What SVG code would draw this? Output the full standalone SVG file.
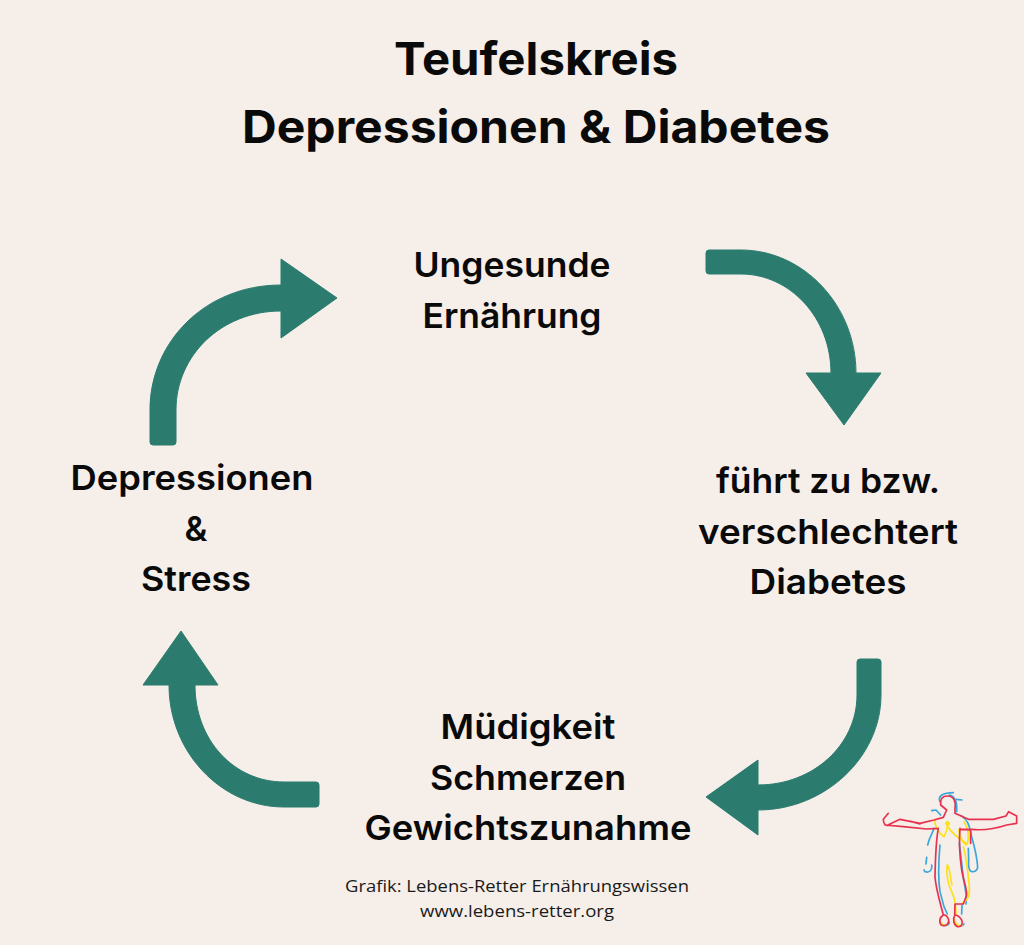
<svg xmlns="http://www.w3.org/2000/svg" width="1024" height="945" viewBox="0 0 1024 945">
<style>
text{font-family:"Inter","Liberation Sans",sans-serif;text-anchor:middle;fill:#0a0a0a}
.t{font-size:45px;font-weight:700}
.l{font-size:34.500px;font-weight:600}
.c{font-family:"Open Sans","Liberation Sans",sans-serif;font-size:16.500px;font-weight:400;fill:#1a1a1a}
.a{fill:#2b7c6f;stroke:#2b7c6f;stroke-width:1;stroke-linejoin:round}
.f path{fill:none;stroke-width:5;stroke-linecap:round;stroke-linejoin:round}
.r{stroke:#e8304f}
.b{stroke:#3aa6dc}
.y{stroke:#fbe116}
</style>
<rect width="1024" height="945" fill="#f5eee9"/>
<g id="title">
<text class="t" x="536" y="75" textLength="284" lengthAdjust="spacingAndGlyphs">Teufelskreis</text>
<text class="t" x="536" y="143" textLength="588" lengthAdjust="spacingAndGlyphs">Depressionen &amp; Diabetes</text>
</g>
<g id="connectors">
<path class="a" d="M709 250H741C804 250 856 306 856 373H881L844 425L806 373H831C831 318 790 274 741 274H709Q706 274 706 271V253Q706 250 709 250Z"/>
<path class="a" d="M881 662V695C881 757 825 810 758 810V835L706 797L758 760V785C813 785 857 745 857 695V662Q857 659 860 659H878Q881 659 881 662Z"/>
<path class="a" d="M316 782H284C234 782 195 740 195 685H218L181 631L143 685H169C169 752 221 807 284 807H316Q319 807 319 804V785Q319 782 316 782Z"/>
<path class="a" d="M150 442V410C150 342 205 285 281 285V259L337 298L281 338V311C222 311 176 355 176 410V442Q176 445 173 445H153Q150 445 150 442Z"/>
</g>
<g id="node-ernaehrung">
<text class="l" x="512" y="277" textLength="197" lengthAdjust="spacingAndGlyphs">Ungesunde</text>
<text class="l" x="512" y="328" textLength="179" lengthAdjust="spacingAndGlyphs">Ernährung</text>
</g>
<g id="node-diabetes">
<text class="l" x="828" y="493" textLength="224" lengthAdjust="spacingAndGlyphs">führt zu bzw.</text>
<text class="l" x="828" y="544" textLength="260" lengthAdjust="spacingAndGlyphs">verschlechtert</text>
<text class="l" x="828" y="594" textLength="157" lengthAdjust="spacingAndGlyphs">Diabetes</text>
</g>
<g id="node-muedigkeit">
<text class="l" x="528" y="739" textLength="175" lengthAdjust="spacingAndGlyphs">Müdigkeit</text>
<text class="l" x="528" y="790" textLength="196" lengthAdjust="spacingAndGlyphs">Schmerzen</text>
<text class="l" x="528" y="840" textLength="327" lengthAdjust="spacingAndGlyphs">Gewichtszunahme</text>
</g>
<g id="node-depressionen">
<text class="l" x="192" y="490" textLength="243" lengthAdjust="spacingAndGlyphs">Depressionen</text>
<text class="l" x="196" y="541">&amp;</text>
<text class="l" x="196" y="591" textLength="110" lengthAdjust="spacingAndGlyphs">Stress</text>
</g>
<g id="credit">
<text class="c" x="517" y="892" textLength="344" lengthAdjust="spacingAndGlyphs">Grafik: Lebens-Retter Ernährungswissen</text>
<text class="c" x="517" y="917" textLength="194" lengthAdjust="spacingAndGlyphs">www.lebens-retter.org</text>
</g>
<g id="figure" class="f" transform="translate(860 780) scale(.3333)">
<path class="b" d="M240 65C232 48 250 38 280 38M268 45C285 48 292 65 290 95M290 58L306 60M215 92L228 90L242 105M305 108C322 118 328 135 335 170C345 205 352 240 353 262C352 272 342 278 333 274C325 270 325 255 326 240L325 205M222 145C218 160 208 170 203 195M200 232L198 252M215 255C218 268 210 280 195 275L192 270M240 195C236 240 233 290 240 335L252 380L262 402M298 190C304 230 306 270 312 305C318 340 322 355 318 372M306 375L305 402M240 425C245 440 265 440 268 428M282 425C288 440 306 442 312 432"/>
<path class="y" d="M225 118C222 135 238 162 252 170C258 160 262 150 262 138C272 155 290 172 322 192C328 170 325 145 312 125M296 150C300 170 305 185 318 195M310 200C322 245 325 290 328 320C330 345 325 360 305 372M262 255C258 275 262 310 275 335C285 355 288 385 288 405M262 255C270 262 270 290 276 315M240 420C244 438 256 438 262 434M282 415C284 430 292 440 306 436"/>
<path class="y" style="stroke-width:14" d="M262 130L263 131"/>
<path class="r" d="M85 100L70 118C70 130 76 138 82 136L120 118L180 130L222 120L250 112L260 90L242 75C240 60 245 48 262 48C282 48 288 65 285 85L285 100L325 118L400 118L438 108L446 95L470 108L470 130L440 135C410 145 370 152 335 148H300M75 135L130 140L200 147L235 145M155 125L180 132M235 145C228 180 226 240 225 290C228 330 240 365 250 405M300 145C297 180 298 220 305 270C310 300 322 330 320 345L310 372H285L284 405M300 148L332 150V190M250 405C238 412 236 428 245 436C256 440 268 432 266 420C264 410 256 404 250 405ZM285 405C278 415 280 435 292 440C305 442 310 430 305 420C300 412 292 405 285 405Z"/>
</g>
</svg>
